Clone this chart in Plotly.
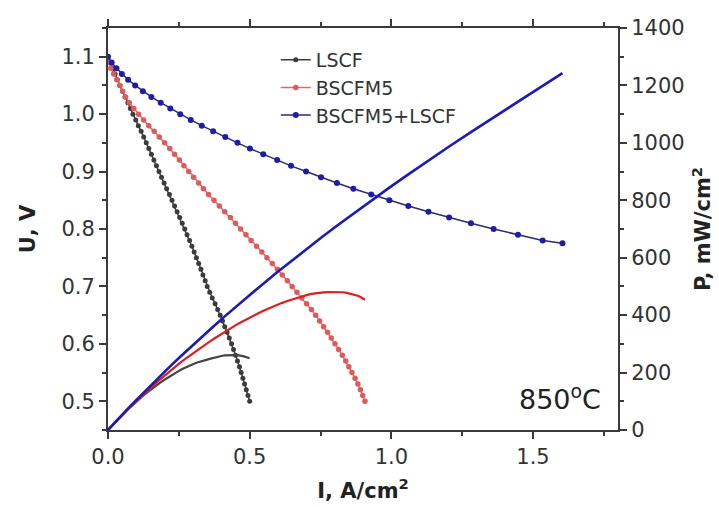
import plotly.graph_objects as go

# Cell voltage steps (V) and the measured current density (A/cm2) at each step
u_lscf = [1.10, 1.09, 1.08, 1.07, 1.06, 1.05, 1.04, 1.03, 1.02, 1.01,
          1.00, 0.99, 0.98, 0.97, 0.96, 0.95, 0.94, 0.93, 0.92, 0.91,
          0.90, 0.89, 0.88, 0.87, 0.86, 0.85, 0.84, 0.83, 0.82, 0.81,
          0.80, 0.79, 0.78, 0.77, 0.76, 0.75, 0.74, 0.73, 0.72, 0.71,
          0.70, 0.69, 0.68, 0.67, 0.66, 0.65, 0.64, 0.63, 0.62, 0.61,
          0.60, 0.59, 0.58, 0.57, 0.56, 0.55, 0.54, 0.53, 0.52, 0.51,
          0.50]
i_lscf = [0.000, 0.008, 0.017, 0.025, 0.033, 0.042, 0.051, 0.060, 0.070, 0.079,
          0.088, 0.098, 0.107, 0.117, 0.126, 0.135, 0.144, 0.153, 0.162, 0.171,
          0.180, 0.189, 0.198, 0.207, 0.217, 0.226, 0.235, 0.244, 0.253, 0.262,
          0.271, 0.279, 0.288, 0.296, 0.304, 0.312, 0.320, 0.328, 0.335, 0.343,
          0.350, 0.359, 0.368, 0.378, 0.387, 0.396, 0.404, 0.412, 0.420, 0.428,
          0.436, 0.443, 0.450, 0.457, 0.464, 0.470, 0.476, 0.482, 0.488, 0.494,
          0.500]

u_bscfm5 = [1.09, 1.08, 1.07, 1.06, 1.05, 1.04, 1.03, 1.02, 1.01,
            1.00, 0.99, 0.98, 0.97, 0.96, 0.95, 0.94, 0.93, 0.92, 0.91,
            0.90, 0.89, 0.88, 0.87, 0.86, 0.85, 0.84, 0.83, 0.82, 0.81,
            0.80, 0.79, 0.78, 0.77, 0.76, 0.75, 0.74, 0.73, 0.72, 0.71,
            0.70, 0.69, 0.68, 0.67, 0.66, 0.65, 0.64, 0.63, 0.62, 0.61,
            0.60, 0.59, 0.58, 0.57, 0.56, 0.55, 0.54, 0.53, 0.52, 0.51,
            0.50]
i_bscfm5 = [0.000, 0.010, 0.020, 0.031, 0.042, 0.052, 0.062, 0.075, 0.091,
            0.108, 0.126, 0.144, 0.163, 0.181, 0.200, 0.218, 0.235, 0.252, 0.268,
            0.285, 0.302, 0.320, 0.337, 0.355, 0.374, 0.393, 0.412, 0.432, 0.450,
            0.468, 0.487, 0.505, 0.524, 0.543, 0.561, 0.580, 0.598, 0.615, 0.633,
            0.650, 0.667, 0.684, 0.701, 0.718, 0.733, 0.747, 0.761, 0.775, 0.788,
            0.801, 0.814, 0.827, 0.839, 0.850, 0.861, 0.872, 0.882, 0.891, 0.899,
            0.907]

u_comp = [1.10, 1.09, 1.08, 1.07, 1.06, 1.05, 1.04, 1.03, 1.02, 1.01,
          1.00, 0.99, 0.98, 0.97, 0.96, 0.95, 0.94, 0.93, 0.92, 0.91,
          0.90, 0.89, 0.88, 0.87, 0.86, 0.85, 0.84, 0.83, 0.82, 0.81,
          0.80, 0.79, 0.78, 0.775]
i_comp = [0.000, 0.013, 0.030, 0.049, 0.071, 0.096, 0.123, 0.153, 0.186, 0.220,
          0.255, 0.292, 0.331, 0.371, 0.414, 0.457, 0.501, 0.548, 0.597, 0.646,
          0.699, 0.752, 0.808, 0.866, 0.929, 0.993, 1.060, 1.131, 1.204, 1.281,
          1.361, 1.447, 1.534, 1.604]

series_names = ["LSCF", "BSCFM5", "BSCFM5+LSCF"]

x_ticks = [0.0, 0.5, 1.0, 1.5]
u_ticks = [0.5, 0.6, 0.7, 0.8, 0.9, 1.0, 1.1]
p_ticks = [0, 200, 400, 600, 800, 1000, 1200, 1400]


def power(i_vals, u_vals):
    # power density, mW/cm2 = (A/cm2) * V * 1000
    return [i * u * 1000.0 for i, u in zip(i_vals, u_vals)]


FONT = "DejaVu Sans"
AX = "#3a3a3a"

fig = go.Figure()

# voltage curves (left axis)
fig.add_trace(go.Scatter(
    x=i_lscf, y=u_lscf, name=series_names[0], mode="lines+markers",
    line=dict(color="#3c3c3c", width=1.5),
    marker=dict(size=5, color="#3c3c3c")))
fig.add_trace(go.Scatter(
    x=i_bscfm5, y=u_bscfm5, name=series_names[1], mode="lines+markers",
    line=dict(color="#e06a6a", width=1.5),
    marker=dict(size=5.5, color="#df5a5a")))
fig.add_trace(go.Scatter(
    x=i_comp, y=u_comp, name=series_names[2], mode="lines+markers",
    line=dict(color="#2c2c6e", width=1.5),
    marker=dict(size=6, color="#1d1daa")))

# power density curves (right axis)
fig.add_trace(go.Scatter(
    x=i_lscf, y=power(i_lscf, u_lscf), yaxis="y2", mode="lines",
    line=dict(color="#454545", width=2.2), showlegend=False))
fig.add_trace(go.Scatter(
    x=i_bscfm5, y=power(i_bscfm5, u_bscfm5), yaxis="y2", mode="lines",
    line=dict(color="#dc1f1f", width=2.2), showlegend=False))
fig.add_trace(go.Scatter(
    x=i_comp, y=power(i_comp, u_comp), yaxis="y2", mode="lines",
    line=dict(color="#1b1bb5", width=2.6), showlegend=False))

tick_font = dict(family=FONT, size=21, color="#333333")
title_font = dict(family=FONT, size=21, color="#222222")

fig.update_layout(
    width=719, height=507,
    margin=dict(l=108, r=101, t=28, b=77, autoexpand=False),
    paper_bgcolor="white", plot_bgcolor="white",
    font=dict(family=FONT, color="#333333"),
    showlegend=True,
    legend=dict(x=0.329, y=0.968, xanchor="left", yanchor="top",
                bgcolor="rgba(0,0,0,0)", font=dict(family=FONT, size=19, color="#333333"),
                tracegroupgap=0, itemwidth=30),
    xaxis=dict(
        range=[0, 1.8], tickvals=x_ticks, tickformat=".1f",
        ticks="outside", ticklen=7, tickwidth=2, tickcolor=AX,
        minor=dict(tickvals=[0.25, 0.75, 1.25, 1.75], ticks="outside", ticklen=4,
                   tickwidth=2, tickcolor=AX),
        showline=True, linecolor=AX, linewidth=2, mirror="ticks",
        showgrid=False, zeroline=False, tickfont=tick_font,
        title=dict(text="<b>I, A/cm<sup>2</sup></b>", font=title_font, standoff=15)),
    yaxis=dict(
        range=[0.45, 1.15], tickvals=u_ticks, tickformat=".1f",
        ticks="outside", ticklen=7, tickwidth=2, tickcolor=AX,
        minor=dict(dtick=0.05, tick0=0.45, ticks="outside", ticklen=4,
                   tickwidth=2, tickcolor=AX),
        showline=True, linecolor=AX, linewidth=2,
        showgrid=False, zeroline=False, tickfont=tick_font,
        title=dict(text="<b>U, V</b>", font=title_font, standoff=20)),
    yaxis2=dict(
        overlaying="y", side="right", range=[0, 1400], tickvals=p_ticks,
        ticks="outside", ticklen=7, tickwidth=2, tickcolor=AX,
        minor=dict(dtick=100, tick0=0, ticks="outside", ticklen=4,
                   tickwidth=2, tickcolor=AX),
        showline=True, linecolor=AX, linewidth=2,
        showgrid=False, zeroline=False, tickfont=tick_font,
        title=dict(text="<b>P, mW/cm<sup>2</sup></b>", font=title_font, standoff=12)),
    annotations=[dict(
        text="850<sup>o</sup>C", xref="paper", yref="paper",
        x=0.97, y=0.08, xanchor="right", yanchor="middle", showarrow=False,
        font=dict(family=FONT, size=27, color="#222222"))],
)

fig.write_html("out.html")
